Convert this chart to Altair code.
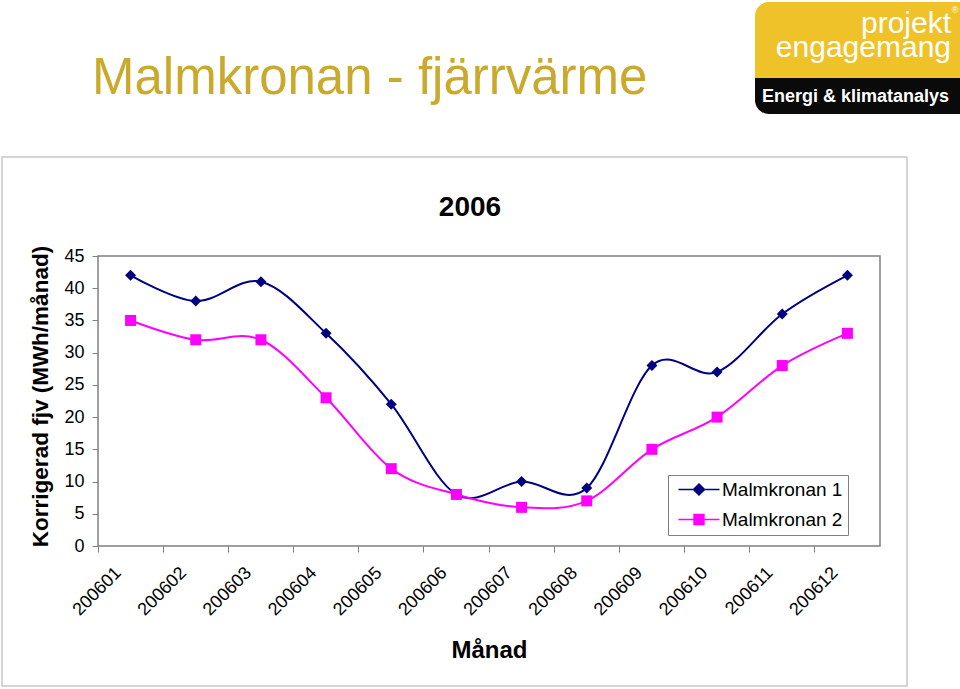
import altair as alt
import pandas as pd

months = ["200601", "200602", "200603", "200604", "200605", "200606",
          "200607", "200608", "200609", "200610", "200611", "200612"]
series_names = ["Malmkronan 1", "Malmkronan 2"]
malmkronan_1 = [42, 38, 41, 33, 22, 8, 10, 9, 28, 27, 36, 42]
malmkronan_2 = [35, 32, 32, 23, 12, 8, 6, 7, 15, 20, 28, 33]
y_ticks = [0, 5, 10, 15, 20, 25, 30, 35, 40, 45]
series_colors = ["#000080", "#FF00FF"]

rows = []
for name, vals in zip(series_names, [malmkronan_1, malmkronan_2]):
    for m, v in zip(months, vals):
        rows.append({"month": m, "value": v, "series": name})
df = pd.DataFrame(rows)

FONT = "Liberation Sans, Arial, sans-serif"

legend_paths = [
    "M-0.73,0H6.73M3,-1L4,0L3,1L2,0Z",
    "M-0.73,0H6.73M2.1,-0.9H3.9V0.9H2.1Z",
]

x_enc = alt.X(
    "month:N", sort=months,
    scale=alt.Scale(type="band", paddingInner=0, paddingOuter=0),
    bandPosition=0.5,
    axis=alt.Axis(
        bandPosition=0, labelAngle=-45, labelAlign="right", labelBaseline="middle",
        labelOffset=-12, labelPadding=18, tickSize=6, tickColor="#808080", domain=False,
        labelFontSize=18, labelFont=FONT, labelColor="black", labelOverlap=False,
        labelFlush=False, grid=False,
        title="Månad", titleFont=FONT, titleFontSize=24, titleFontWeight="bold",
        titleColor="black", titleBaseline="alphabetic", titleY=111, titleX=391,
    ),
)
y_enc = alt.Y(
    "value:Q", scale=alt.Scale(domain=[0, 45], nice=False, zero=True),
    axis=alt.Axis(
        values=y_ticks, tickSize=6, tickColor="#808080", domain=False, grid=False,
        labelFontSize=18, labelFont=FONT, labelColor="black", labelPadding=8,
        title="Korrigerad fjv (MWh/månad)", titleFont=FONT, titleFontSize=22.5,
        titleFontWeight="bold", titleColor="black", titleBaseline="alphabetic",
        titleX=-51, titleY=140,
    ),
)
color_scale = alt.Scale(domain=series_names, range=series_colors)

base = alt.Chart(df).encode(
    x=x_enc, y=y_enc,
    color=alt.Color("series:N", scale=color_scale, legend=None),
)
lines = base.mark_line(interpolate="cardinal", strokeWidth=2)
points = base.mark_point(filled=True, opacity=1, size=121).encode(
    shape=alt.Shape("series:N", scale=alt.Scale(domain=series_names, range=["diamond", "square"]), legend=None)
)
data_layer = alt.layer(lines, points)

leg = alt.Legend(
    title=None, orient="none", legendX=570, legendY=219, fillColor="white",
    strokeColor="#808080", padding=5, labelFontSize=19, labelFont=FONT,
    labelColor="black", symbolSize=121, symbolOffset=0, labelOffset=30,
    rowPadding=10, symbolStrokeWidth=1.5, symbolOpacity=1,
)
legend_layer = alt.Chart(df).transform_filter(alt.datum.value < 0).mark_point(
    filled=True, opacity=1, strokeWidth=1.5
).encode(
    color=alt.Color("series:N", scale=alt.Scale(domain=series_names, range=series_colors), legend=leg),
    stroke=alt.Stroke("series:N", scale=alt.Scale(domain=series_names, range=series_colors), legend=leg),
    shape=alt.Shape("series:N", scale=alt.Scale(domain=series_names, range=legend_paths), legend=leg),
)

one = pd.DataFrame({"a": [0]})

frame = alt.Chart(one).mark_rect(filled=False, stroke="#C8C8C8", strokeWidth=1.5).encode(
    x=alt.value(-96), x2=alt.value(809), y=alt.value(-99), y2=alt.value(430)
)
main_title = alt.Chart(one).mark_text(
    text="Malmkronan - fjärrvärme", font=FONT, fontSize=51, color="#C9AA2C",
    align="left", baseline="alphabetic"
).encode(x=alt.value(-6), y=alt.value(-162))
year_title = alt.Chart(one).mark_text(
    text="2006", font=FONT, fontSize=28, fontWeight="bold", color="black",
    align="center", baseline="alphabetic"
).encode(x=alt.value(372), y=alt.value(-40))

logo_yellow = alt.Chart(one).mark_rect(color="#F0C22A", cornerRadiusTopLeft=14).encode(
    x=alt.value(657), x2=alt.value(862), y=alt.value(-254), y2=alt.value(-177)
)
logo_black = alt.Chart(one).mark_rect(color="#0A0A0A", cornerRadiusBottomLeft=14).encode(
    x=alt.value(657), x2=alt.value(862), y=alt.value(-178), y2=alt.value(-142)
)
logo_t1 = alt.Chart(one).mark_text(
    text="projekt", font=FONT, fontSize=30, color="white", align="right", baseline="alphabetic"
).encode(x=alt.value(853), y=alt.value(-223))
logo_t2 = alt.Chart(one).mark_text(
    text="engagemang", font=FONT, fontSize=30, color="white", align="right", baseline="alphabetic"
).encode(x=alt.value(853), y=alt.value(-199))
logo_r = alt.Chart(one).mark_text(
    text="®", font=FONT, fontSize=9, color="white", align="center", baseline="middle"
).encode(x=alt.value(857), y=alt.value(-246))
logo_t3 = alt.Chart(one).mark_text(
    text="Energi & klimatanalys", font=FONT, fontSize=18, fontWeight="bold", color="white",
    align="left", baseline="alphabetic"
).encode(x=alt.value(664), y=alt.value(-154))

chart = alt.layer(
    frame, main_title, year_title, logo_yellow, logo_black, logo_t1, logo_t2, logo_r, logo_t3,
    data_layer, legend_layer,
).resolve_scale(
    color="independent", shape="independent", stroke="independent"
).properties(
    width=782, height=290,
    autosize=alt.AutoSizeParams(type="none"),
    padding={"left": 98, "top": 256, "right": 80, "bottom": 143},
    background="white",
).configure_view(
    fill="#C0C0C0", stroke="#808080", strokeWidth=1.5
)

chart.save("out.html", embed_options={"renderer": "svg", "actions": False})
